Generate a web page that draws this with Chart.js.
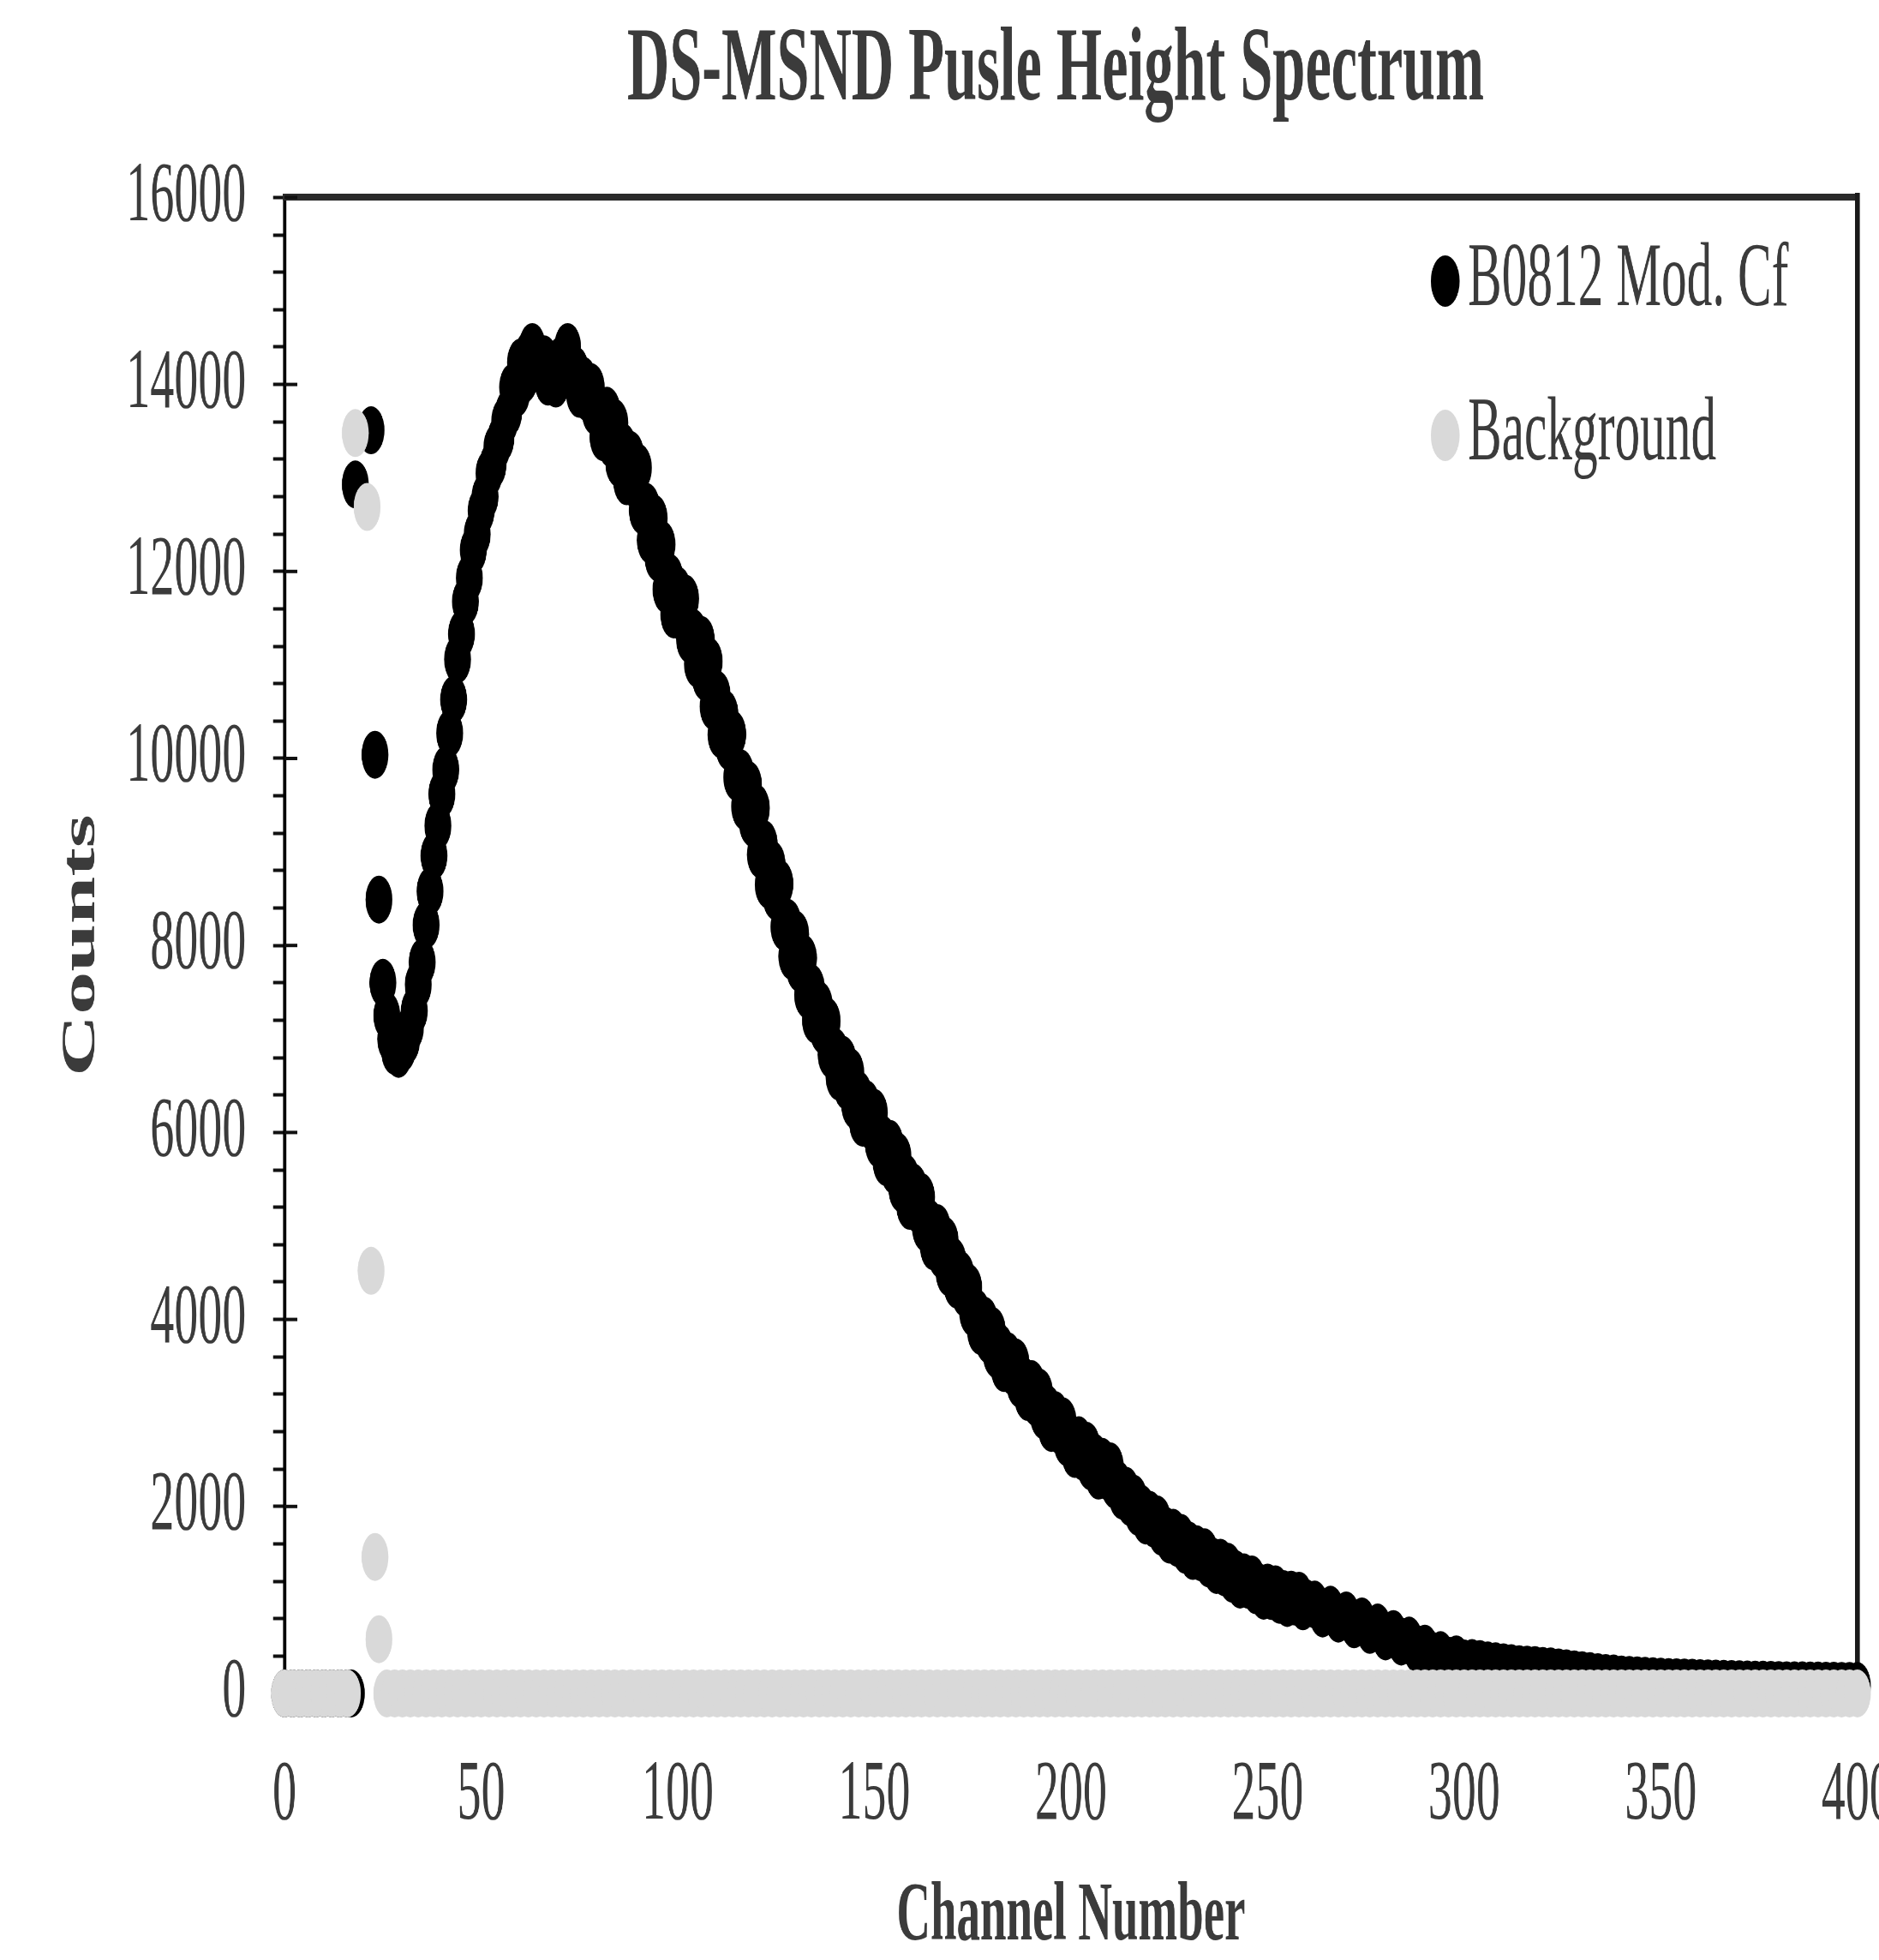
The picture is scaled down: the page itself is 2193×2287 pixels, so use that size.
<!DOCTYPE html>
<html>
<head>
<meta charset="utf-8">
<script src="https://cdn.jsdelivr.net/npm/chart.js@4.4.1/dist/chart.umd.min.js"></script>
<style>
  html, body { margin: 0; padding: 0; background: #ffffff; overflow: hidden; }
  #wrap { position: relative; width: 2193px; height: 2287px; overflow: hidden; background: #ffffff; }
  #c { position: absolute; left: 0; top: 0; transform-origin: 0 0; }
</style>
</head>
<body>
<div id="wrap"><canvas id="c"></canvas></div>
<script>
// ---------------- data ----------------
const chartTitle = 'DS-MSND Pusle Height Spectrum';
const xAxisTitle = 'Channel Number';
const yAxisTitle = 'Counts';
const seriesNames = ['B0812 Mod. Cf', 'Background'];
const xTickLabels = ['0', '50', '100', '150', '200', '250', '300', '350', '400'];
const yTickLabels = ['0', '2000', '4000', '6000', '8000', '10000', '12000', '14000', '16000'];

const cfChannels = [
  0, 2, 4, 6, 8, 10, 12, 14, 16, 17,
  18, 22, 23, 24,
  25, 26, 27, 28, 29, 30, 31, 32, 33, 34,
  35, 36, 37, 38, 39, 40, 41, 42, 43, 44,
  45, 46, 47, 48, 49, 50, 51, 52, 53, 54,
  55, 56, 57, 58, 59, 60, 61, 62, 63, 64,
  65, 66, 67, 68, 69, 70, 71, 72, 73, 74,
  75, 76, 77, 78, 79, 80, 81, 82, 83, 84,
  85, 86, 87, 88, 89, 90, 91, 92, 93, 94,
  95, 96, 97, 98, 99, 100, 101, 102, 103, 104,
  105, 106, 107, 108, 109, 110, 111, 112, 113, 114,
  115, 116, 117, 118, 119, 120, 121, 122, 123, 124,
  125, 126, 127, 128, 129, 130, 131, 132, 133, 134,
  135, 136, 137, 138, 139, 140, 141, 142, 143, 144,
  145, 146, 147, 148, 149, 150, 151, 152, 153, 154,
  155, 156, 157, 158, 159, 160, 161, 162, 163, 164,
  165, 166, 167, 168, 169, 170, 171, 172, 173, 174,
  175, 176, 177, 178, 179, 180, 181, 182, 183, 184,
  185, 186, 187, 188, 189, 190, 191, 192, 193, 194,
  195, 196, 197, 198, 199, 200, 201, 202, 203, 204,
  205, 206, 207, 208, 209, 210, 211, 212, 213, 214,
  215, 216, 217, 218, 219, 220, 221, 222, 223, 224,
  225, 226, 227, 228, 229, 230, 231, 232, 233, 234,
  235, 236, 237, 238, 239, 240, 241, 242, 243, 244,
  245, 246, 247, 248, 249, 250, 251, 252, 253, 254,
  255, 256, 257, 258, 259, 260,
  262, 264, 266, 268, 270, 272, 274, 276, 278, 280,
  282, 284, 286, 288, 290, 292, 294, 296, 298, 300,
  302, 304, 306, 308, 310, 312, 314, 316, 318, 320,
  322, 324, 326, 328, 330, 332, 334, 336, 338, 340,
  342, 344, 346, 348, 350, 352, 354, 356, 358, 360,
  362, 364, 366, 368, 370, 372, 374, 376, 378, 380,
  382, 384, 386, 388, 390, 392, 394, 396, 398, 400
];
const cfCounts = [
  0, 0, 0, 0, 0, 0, 0, 0, 0, 0,
  12930, 13510, 10040, 8490,
  7600, 7250, 7000, 6870, 6840, 6900, 6980, 7120, 7300, 7580,
  7820, 8220, 8580, 8960, 9280, 9620, 9880, 10270, 10630, 11060,
  11330, 11680, 11930, 12230, 12400, 12650, 12800, 13050, 13140, 13330,
  13420, 13610, 13700, 13970, 13905, 14235, 14060, 14320, 14400, 14250,
  14160, 14270, 14030, 14100, 14010, 14250, 14200, 14400, 14130, 14150,
  13900, 14040, 13860, 13970, 13710, 13720, 13436, 13718, 13370, 13589,
  13157, 13334, 12965, 13247, 12937, 13110, 12649, 12692, 12336, 12568,
  12145, 12289, 11807, 11934, 11540, 11797, 11512, 11710, 11274, 11342,
  11011, 11268, 10870, 11039, 10557, 10684, 10255, 10477, 10127, 10260,
  9799, 9842, 9486, 9718, 9310, 9469, 8972, 9084, 8650, 8867,
  8522, 8660, 8199, 8242, 7886, 8118, 7755, 7864, 7472, 7544,
  7205, 7362, 7092, 7190, 6834, 6862, 6596, 6778, 6495, 6644,
  6292, 6404, 6105, 6302, 6072, 6210, 5879, 5932, 5681, 5878,
  5595, 5744, 5397, 5514, 5215, 5412, 5177, 5310, 4979, 5032,
  4781, 4978, 4695, 4844, 4502, 4624, 4370, 4477, 4282, 4340,
  4074, 4072, 3876, 3988, 3785, 3879, 3627, 3694, 3480, 3607,
  3447, 3540, 3309, 3342, 3171, 3308, 3115, 3219, 2972, 3044,
  2840, 2977, 2817, 2910, 2684, 2722, 2561, 2708, 2530, 2649,
  2427, 2524, 2330, 2477, 2327, 2430, 2234, 2232, 2116, 2168,
  2045, 2084, 1942, 1974, 1850, 1912, 1817, 1860, 1729, 1742,
  1646, 1718, 1610, 1664, 1537, 1584, 1470, 1542, 1457, 1510,
  1389, 1412, 1321, 1398, 1295, 1354, 1227, 1274, 1165, 1242,
  1162, 1220, 1104, 1132, 1046, 1133, 1042, 1114, 1002, 1064,
  968, 1057, 982, 1045, 932, 962,
  950, 855, 895, 800, 835, 740, 770, 680, 705, 610,
  635, 555, 565, 475, 480, 400, 410, 350, 365, 320,
  325, 315, 300, 290, 280, 270, 260, 255, 250, 240,
  235, 225, 215, 205, 195, 185, 175, 165, 160, 150,
  145, 140, 135, 130, 125, 122, 120, 118, 115, 110,
  108, 105, 102, 100, 98, 96, 95, 93, 92, 90,
  88, 87, 86, 85, 84, 83, 82, 81, 80, 80
];

const bgChannels = [
  0, 2, 4, 6, 8, 10, 12, 14, 16,
  18, 21, 22, 23, 24,
  26, 28, 30, 32, 34, 36, 38, 40, 42, 44,
  46, 48, 50, 52, 54, 56, 58, 60, 62, 64,
  66, 68, 70, 72, 74, 76, 78, 80, 82, 84,
  86, 88, 90, 92, 94, 96, 98, 100, 102, 104,
  106, 108, 110, 112, 114, 116, 118, 120, 122, 124,
  126, 128, 130, 132, 134, 136, 138, 140, 142, 144,
  146, 148, 150, 152, 154, 156, 158, 160, 162, 164,
  166, 168, 170, 172, 174, 176, 178, 180, 182, 184,
  186, 188, 190, 192, 194, 196, 198, 200, 202, 204,
  206, 208, 210, 212, 214, 216, 218, 220, 222, 224,
  226, 228, 230, 232, 234, 236, 238, 240, 242, 244,
  246, 248, 250, 252, 254, 256, 258, 260, 262, 264,
  266, 268, 270, 272, 274, 276, 278, 280, 282, 284,
  286, 288, 290, 292, 294, 296, 298, 300, 302, 304,
  306, 308, 310, 312, 314, 316, 318, 320, 322, 324,
  326, 328, 330, 332, 334, 336, 338, 340, 342, 344,
  346, 348, 350, 352, 354, 356, 358, 360, 362, 364,
  366, 368, 370, 372, 374, 376, 378, 380, 382, 384,
  386, 388, 390, 392, 394, 396, 398, 400
];
const bgCounts = [
  0, 0, 0, 0, 0, 0, 0, 0, 0,
  13480, 12690, 4520, 1460, 580,
  0, 0, 0, 0, 0, 0, 0, 0, 0, 0,
  0, 0, 0, 0, 0, 0, 0, 0, 0, 0,
  0, 0, 0, 0, 0, 0, 0, 0, 0, 0,
  0, 0, 0, 0, 0, 0, 0, 0, 0, 0,
  0, 0, 0, 0, 0, 0, 0, 0, 0, 0,
  0, 0, 0, 0, 0, 0, 0, 0, 0, 0,
  0, 0, 0, 0, 0, 0, 0, 0, 0, 0,
  0, 0, 0, 0, 0, 0, 0, 0, 0, 0,
  0, 0, 0, 0, 0, 0, 0, 0, 0, 0,
  0, 0, 0, 0, 0, 0, 0, 0, 0, 0,
  0, 0, 0, 0, 0, 0, 0, 0, 0, 0,
  0, 0, 0, 0, 0, 0, 0, 0, 0, 0,
  0, 0, 0, 0, 0, 0, 0, 0, 0, 0,
  0, 0, 0, 0, 0, 0, 0, 0, 0, 0,
  0, 0, 0, 0, 0, 0, 0, 0, 0, 0,
  0, 0, 0, 0, 0, 0, 0, 0, 0, 0,
  0, 0, 0, 0, 0, 0, 0, 0, 0, 0,
  0, 0, 0, 0, 0, 0, 0, 0, 0, 0,
  0, 0, 0, 0, 0, 0, 0, 0
];

// ---------------- layout / style ----------------
const SQUEEZE = 0.56;          // the reference is horizontally compressed
const CANVAS_W = 4400;         // logical canvas width (before squeeze)
const CANVAS_H = 2287;
const Y_AXIS_W = 593;          // logical width of left axis box -> plot left
const RIGHT_MARGIN = 529;      // logical space right of plot
const X_AXIS_H = 311;          // space below plot
const FONT = "'Liberation Serif', 'Times New Roman', serif";
const TEXT = '#3b3b3b';
const COLORS = ['#000000', '#d9d9d9'];
const MARKER_R = 28;

const canvas = document.getElementById('c');
canvas.width = CANVAS_W;
canvas.height = CANVAS_H;
canvas.style.width = CANVAS_W + 'px';
canvas.style.height = CANVAS_H + 'px';
canvas.style.transform = 'scaleX(' + SQUEEZE + ')';

const toPoints = (xs, ys) => xs.map((x, i) => ({ x: x, y: ys[i] }));

const innerTicks = {
  id: 'innerTicks',
  beforeDatasetsDraw(chart) {
    const { ctx, chartArea, scales } = chart;
    ctx.save();
    ctx.strokeStyle = '#111111';
    ctx.lineWidth = 4;
    yTickLabels.forEach((lbl) => {
      const y = scales.y.getPixelForValue(Number(lbl));
      ctx.beginPath();
      ctx.moveTo(chartArea.left, y);
      ctx.lineTo(chartArea.left + 27, y);
      ctx.stroke();
    });
    ctx.restore();
  }
};

const insideLegend = {
  id: 'insideLegend',
  afterDraw(chart) {
    const { ctx } = chart;
    const rows = [328, 508];
    ctx.save();
    ctx.font = '106px ' + FONT;
    ctx.textBaseline = 'middle';
    ctx.textAlign = 'left';
    chart.data.datasets.forEach((ds, i) => {
      const y = rows[i];
      ctx.beginPath();
      ctx.fillStyle = ds.backgroundColor;
      ctx.arc(3012, y, 30, 0, Math.PI * 2);
      ctx.fill();
      ctx.fillStyle = TEXT;
      ctx.fillText(ds.label, 3059, y);
    });
    ctx.restore();
  }
};

new Chart(canvas, {
  type: 'scatter',
  data: {
    datasets: [
      {
        label: seriesNames[0],
        data: toPoints(cfChannels, cfCounts),
        backgroundColor: COLORS[0],
        borderColor: COLORS[0],
        borderWidth: 0,
        pointRadius: MARKER_R,
        pointHoverRadius: MARKER_R,
        clip: false,
        order: 2
      },
      {
        label: seriesNames[1],
        data: toPoints(bgChannels, bgCounts),
        backgroundColor: COLORS[1],
        borderColor: COLORS[1],
        borderWidth: 0,
        pointRadius: MARKER_R,
        pointHoverRadius: MARKER_R,
        clip: false,
        order: 1
      }
    ]
  },
  options: {
    responsive: false,
    animation: false,
    devicePixelRatio: 1,
    events: [],
    layout: { padding: 0 },
    plugins: {
      legend: { display: false },
      tooltip: { enabled: false },
      title: {
        display: true,
        text: chartTitle,
        color: TEXT,
        font: { family: FONT, size: 122, weight: 'bold', lineHeight: 1.2 },
        padding: { top: 11, bottom: 73 }
      }
    },
    scales: {
      x: {
        type: 'linear',
        position: 'bottom',
        min: 0,
        max: 400,
        grid: { display: false, drawTicks: false },
        border: { display: false },
        ticks: {
          stepSize: 50,
          autoSkip: false,
          maxRotation: 0,
          padding: 60,
          color: TEXT,
          font: { family: FONT, size: 100 },
          callback: (v) => xTickLabels[Math.round(v / 50)]
        },
        title: {
          display: true,
          text: xAxisTitle,
          color: TEXT,
          font: { family: FONT, size: 98, weight: 'bold', lineHeight: 1 },
          padding: { top: 0, bottom: 0 }
        },
        afterFit(scale) {
          scale.height = X_AXIS_H;
          scale.paddingLeft = 0;
          scale.paddingRight = RIGHT_MARGIN;
        }
      },
      y: {
        type: 'linear',
        position: 'left',
        min: 0,
        max: 16000,
        grid: {
          display: true,
          drawOnChartArea: false,
          drawTicks: true,
          tickLength: 24,
          tickWidth: 4,
          tickColor: '#111111'
        },
        border: { display: true, color: '#000000', width: 7 },
        ticks: {
          stepSize: 400,
          autoSkip: false,
          padding: 56,
          color: TEXT,
          font: { family: FONT, size: 100 },
          callback: (v) => (v % 2000 === 0 ? yTickLabels[v / 2000] : '')
        },
        title: {
          display: true,
          text: yAxisTitle,
          color: TEXT,
          font: { family: FONT, size: 100, weight: 'bold', lineHeight: 1 },
          padding: { top: 120, bottom: 0 }
        },
        afterFit(scale) {
          scale.width = Y_AXIS_W;
        }
      },
      x2: {
        type: 'linear',
        axis: 'x',
        position: 'top',
        min: 0,
        max: 400,
        grid: { display: false, drawTicks: false },
        ticks: { display: false },
        border: { display: true, color: '#2a2a2a', width: 8 }
      },
      y2: {
        type: 'linear',
        axis: 'y',
        position: 'right',
        min: 0,
        max: 16000,
        grid: { display: false, drawTicks: false },
        ticks: { display: false },
        border: { display: true, color: '#1a1a1a', width: 10 }
      }
    }
  },
  plugins: [innerTicks, insideLegend]
});
</script>
</body>
</html>
